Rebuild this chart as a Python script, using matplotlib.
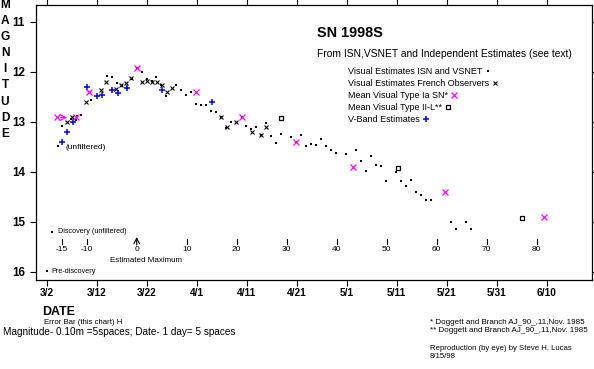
import numpy as np
import matplotlib.pyplot as plt

plt.rcParams['font.family'] = ['Liberation Sans', 'DejaVu Sans']

# days after 3/2/1998 and visual magnitude
isn_day = [2.3, 3.0, 4.9, 5.9, 6.0, 6.8, 8.8, 12.0, 13.0, 14.0, 15.0, 17.0, 18.0, 19.0,
           20.0, 21.0, 21.8, 22.9, 23.9, 25.9, 26.9, 27.9, 28.9, 29.9, 30.9, 31.9,
           32.9, 33.9, 34.9, 35.9, 36.9, 39.0, 39.9, 40.9, 41.9, 42.9, 43.9, 44.8,
           45.8, 46.9, 48.8, 49.8, 50.9, 51.9, 52.9, 53.9, 54.9, 55.9, 56.9, 57.9,
           59.9, 61.9, 62.9, 63.9, 64.9, 65.9, 66.9, 67.9, 69.9, 70.9, 71.9, 72.9,
           73.9, 74.9, 75.9, 76.9, 80.9, 81.9, 83.9, 84.9]
isn_mag = [13.49, 13.09, 12.94, 12.97, 12.89, 12.87, 12.56, 12.09, 12.11, 12.23, 12.29,
           12.15, 11.93, 12.01, 12.14, 12.18, 12.11, 12.26, 12.49, 12.26, 12.36, 12.47,
           12.40, 12.65, 12.67, 12.67, 12.78, 12.80, 12.91, 13.13, 13.00, 12.91, 13.09,
           13.14, 13.11, 13.26, 13.03, 13.29, 13.43, 13.25, 13.31, 13.41, 13.27, 13.49,
           13.45, 13.47, 13.35, 13.49, 13.57, 13.63, 13.65, 13.56, 13.79, 13.99, 13.69,
           13.87, 13.89, 14.19, 14.01, 14.19, 14.29, 14.17, 14.41, 14.46, 14.56, 14.56,
           15.00, 15.15, 15.00, 15.14]

french_day = [4.0, 5.0, 7.9, 10.9, 11.9, 13.9, 14.9, 15.9, 16.9, 19.0, 20.0, 21.0, 22.0,
              23.0, 24.0, 25.0, 34.9, 36.0, 37.9, 41.0, 42.9, 43.9]
french_mag = [13.01, 12.91, 12.61, 12.37, 12.21, 12.34, 12.27, 12.23, 12.13, 12.21, 12.19,
              12.21, 12.21, 12.26, 12.41, 12.33, 12.91, 13.11, 13.00, 13.21, 13.26, 13.11]

ia_day = [2.1, 5.8, 8.5, 18.0, 29.8, 39.0, 49.8, 61.3, 79.7, 99.5]
ia_mag = [12.91, 12.91, 12.41, 11.93, 12.41, 12.91, 13.41, 13.91, 14.41, 14.91]

iil_day = [46.9, 70.2, 95.1]
iil_mag = [12.93, 13.93, 14.93]

vband_day = [3.1, 4.1, 5.3, 8.1, 10.1, 11.1, 13.1, 14.2, 16.1, 23.1, 33.1]
vband_mag = [13.41, 13.21, 13.01, 12.31, 12.48, 12.47, 12.37, 12.43, 12.33, 12.37, 12.61]

date_labels = ['3/2', '3/12', '3/22', '4/1', '4/11', '4/21', '5/1', '5/11', '5/21', '5/31', '6/10']
max_day = 18
rel_days = [-15, -10, 0, 10, 20, 30, 40, 50, 60, 70, 80]

W, H = 594, 369
fig = plt.figure(figsize=(W / 100, H / 100), dpi=100)
ax = fig.add_axes([36 / W, 1 - 280 / H, 556 / W, 275 / H])
ax.set_xlim(-2.14, 109.06)
ax.set_ylim(16.16, 10.66)

ax.plot(isn_day, isn_mag, 's', color='black', ms=2.1, mew=0)
ax.plot(french_day, french_mag, 'x', color='black', ms=3.2, mew=0.8)
ax.plot(vband_day, vband_mag, '+', color='#0000ff', ms=4.5, mew=1.1)
ax.plot(iil_day, iil_mag, 's', color='black', mfc='white', ms=3.4, mew=0.9)
ax.plot(ia_day, ia_mag, 'x', color='#ff00ff', ms=5, mew=0.9)
ax.annotate('', xy=(4.1, 12.91), xytext=(2.8, 12.91),
            arrowprops=dict(arrowstyle='->', color='#ff00ff', lw=0.9, shrinkA=0, shrinkB=0))
ax.text(3.86, 13.51, '(unfiltered)', fontsize=6, va='center')

# key for discovery points
ax.plot([1.0], [15.2], 's', color='black', ms=2.1, mew=0)
ax.text(2.26, 15.2, 'Discovery (unfiltered)', fontsize=5.2, va='center')
ax.plot([0.0], [15.99], 's', color='black', ms=2.1, mew=0)
ax.text(0.86, 15.99, 'Pre-discovery', fontsize=5.2, va='center')

# days from maximum
for r in rel_days:
    d = max_day + r
    if r == 0:
        ax.annotate('', xy=(d, 15.30), xytext=(d, 15.46),
                    arrowprops=dict(arrowstyle='->', color='black', lw=0.8, shrinkA=0, shrinkB=0))
    else:
        ax.plot([d, d], [15.34, 15.44], color='black', lw=0.8)
    ax.text(d, 15.56, str(r), fontsize=6, ha='center', va='center')
ax.text(19.9, 15.78, 'Estimated Maximum', fontsize=5.8, ha='center', va='center')

ax.set_xticks(np.arange(0, 101, 10))
ax.set_xticklabels(date_labels, fontsize=7.3, fontweight='bold')
ax.set_yticks(range(11, 17))
ax.set_yticklabels([str(m) for m in range(11, 17)], fontsize=8.4, fontweight='bold')
ax.tick_params(direction='out', length=4, width=0.8, top=True, right=True, pad=2)
ax.tick_params(axis='y', pad=4)
for s in ax.spines.values():
    s.set_linewidth(0.9)

def px(x, y):
    return x / W, 1 - y / H

for i, ch in enumerate('MAGNITUDE'):
    fig.text(*px(5, 5 + i * 16.1), ch, fontsize=8.6, fontweight='bold', ha='center', va='center')

fig.text(*px(317, 33), 'SN 1998S', fontsize=10.4, fontweight='bold', va='center')
fig.text(*px(317, 54), 'From ISN,VSNET and Independent Estimates (see text)', fontsize=7.4, va='center')

legend_rows = [
    ('Visual Estimates ISN and VSNET', dict(marker='s', color='black', ms=2.1, mew=0)),
    ('Visual Estimates French Observers', dict(marker='x', color='black', ms=3.2, mew=0.8)),
    ('Mean Visual Type Ia SN*', dict(marker='x', color='#ff00ff', ms=5, mew=0.9)),
    ('Mean Visual Type II-L**', dict(marker='s', color='black', mfc='white', ms=3.4, mew=0.9)),
    ('V-Band Estimates', dict(marker='+', color='#0000ff', ms=4.5, mew=1.1)),
]
legend_texts = []
for i, (lab, st) in enumerate(legend_rows):
    legend_texts.append(fig.text(*px(348, 71 + i * 12), lab, fontsize=6.5, va='center'))
fig.canvas.draw()
rend = fig.canvas.get_renderer()
for t, (lab, st) in zip(legend_texts, legend_rows):
    bb = t.get_window_extent(rend)
    xm = (bb.x1 + 6) / W
    ym = (bb.y0 + bb.y1) / 2 / H
    fig.lines.append(plt.Line2D([xm], [ym], linestyle='none', transform=fig.transFigure, **st))

fig.text(*px(42, 312), 'DATE', fontsize=8.9, fontweight='bold', va='center')
fig.text(*px(44, 323), 'Error Bar (this chart) H', fontsize=5.6, va='center')
fig.text(*px(3, 332), 'Magnitude- 0.10m =5spaces; Date- 1 day= 5 spaces', fontsize=7.2, va='center')
fig.text(*px(430, 323), '* Doggett and Branch AJ_90_,11,Nov. 1985', fontsize=5.8, va='center')
fig.text(*px(430, 331), '** Doggett and Branch AJ_90_,11,Nov. 1985', fontsize=5.8, va='center')
fig.text(*px(430, 348), 'Reproduction (by eye) by Steve H. Lucas', fontsize=5.6, va='center')
fig.text(*px(430, 356), '8/15/98', fontsize=5.6, va='center')

fig.savefig('out.png', dpi=100)
